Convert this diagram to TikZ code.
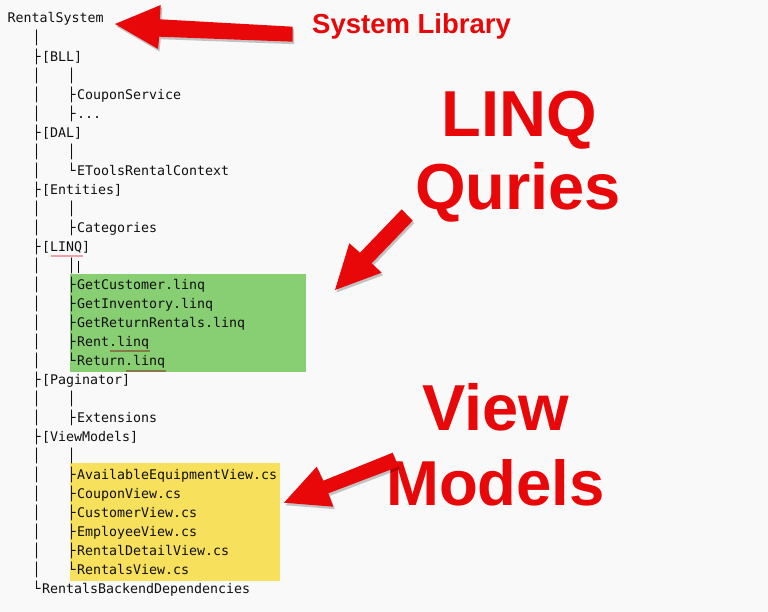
\documentclass[tikz,border=0pt]{standalone}
\usepackage{fontspec}
\setmainfont{Liberation Sans}
\newfontfamily\treefont{DejaVu Sans Mono}
\usetikzlibrary{shadows}
\definecolor{bgc}{HTML}{F9F9F9}
\definecolor{txt}{HTML}{101010}
\definecolor{grn}{HTML}{88CE72}
\definecolor{ylw}{HTML}{F7E05B}
\definecolor{redc}{HTML}{E8080A}
\definecolor{pinkul}{HTML}{F2A0A8}
\definecolor{oliveul}{HTML}{857849}
\tikzset{
  tree/.style={inner sep=0pt, outer sep=0pt, anchor=base west, text=txt,
    font=\treefont\fontsize{13.3}{16}\selectfont},
  callout/.style={inner sep=0pt, anchor=base, text=redc,
    font=\bfseries\fontsize{65}{70}\selectfont},
  redarrow/.style={fill=redc, drop shadow={shadow xshift=1.5pt, shadow yshift=-2.5pt, fill=black, opacity=0.22}},
}
\newcommand\TA[2]{\pgfmathsetmacro\yy{23+19.03*#1}\node[tree] (a#1) at (32.7,\yy) {#2};}
\newcommand\TB[2]{\pgfmathsetmacro\yy{23+19.03*#1}\node[tree] (b#1) at (67.7,\yy) {#2};}
\newcommand\LA[2]{\pgfmathsetmacro\yy{23+19.03*#1}\node[tree] (la#1) at (42,\yy) {#2};}
\newcommand\LB[2]{\pgfmathsetmacro\yy{23+19.03*#1}\node[tree] (lb#1) at (77,\yy) {#2};}
\begin{document}
\begin{tikzpicture}[x=1pt,y=-1pt]
\fill[bgc] (0,0) rectangle (768,612);
\useasboundingbox (0,0) rectangle (768,612);
% highlights
\fill[grn] (70,274) rectangle (306,371.7);
\fill[ylw] (70,463.3) rectangle (280,580.7);
% tree
\node[tree] (root) at (7.5,23) {RentalSystem};
\TA{1}{│}
\TA{2}{├}\LA{2}{[BLL]}
\TA{3}{│}\TB{3}{│}
\TA{4}{│}\TB{4}{├}\LB{4}{CouponService}
\TA{5}{│}\TB{5}{├}\LB{5}{...}
\TA{6}{├}\LA{6}{[DAL]}
\TA{7}{│}\TB{7}{│}
\TA{8}{│}\TB{8}{└}\LB{8}{EToolsRentalContext}
\TA{9}{├}\LA{9}{[Entities]}
\TA{10}{│}\TB{10}{│}
\TA{11}{│}\TB{11}{├}\LB{11}{Categories}
\TA{12}{├}\LA{12}{[LINQ]}
\TA{13}{│}\TB{13}{│}
\TA{14}{│}\TB{14}{├}\LB{14}{GetCustomer.linq}
\TA{15}{│}\TB{15}{├}\LB{15}{GetInventory.linq}
\TA{16}{│}\TB{16}{├}\LB{16}{GetReturnRentals.linq}
\TA{17}{│}\TB{17}{├}\LB{17}{Rent.linq}
\TA{18}{│}\TB{18}{└}\LB{18}{Return.linq}
\TA{19}{├}\LA{19}{[Paginator]}
\TA{20}{│}\TB{20}{│}
\TA{21}{│}\TB{21}{├}\LB{21}{Extensions}
\TA{22}{├}\LA{22}{[ViewModels]}
\TA{23}{│}\TB{23}{│}
\TA{24}{│}\TB{24}{├}\LB{24}{AvailableEquipmentView.cs}
\TA{25}{│}\TB{25}{├}\LB{25}{CouponView.cs}
\TA{26}{│}\TB{26}{├}\LB{26}{CustomerView.cs}
\TA{27}{│}\TB{27}{├}\LB{27}{EmployeeView.cs}
\TA{28}{│}\TB{28}{├}\LB{28}{RentalDetailView.cs}
\TA{29}{│}\TB{29}{└}\LB{29}{RentalsView.cs}
\TA{30}{└}\LA{30}{RentalsBackendDependencies}
% cursor and underlines
\draw[black, line width=1pt] (78.3,260.7) -- (78.3,273.3);
\draw[pinkul, line width=2pt] (51,256) -- (82.7,256);
\draw[oliveul, line width=2pt] (110,351) -- (150,351);
\draw[oliveul, line width=2pt] (126,370.7) -- (166,370.7);
% red labels
\node[inner sep=0pt, anchor=base west, text=redc, font=\bfseries\fontsize{27.5}{30}\selectfont] (syslib) at (312,33.3) {System Library};
\node[callout] (linq) at (519,136.7) {LINQ};
\node[callout] (quries) at (518,210) {Quries};
\node[callout] (view) at (496,430) {View};
\node[callout, font=\bfseries\fontsize{63.5}{70}\selectfont] (models) at (495.5,505) {Models};
% arrows
\path[redarrow] (115,24) -- (160.7,5) -- (160,19.3) -- (292.7,26.7) -- (292.7,41.7) -- (159.3,36.7) -- (158,49) -- cycle;
\path[redarrow] (335,290) -- (349.3,243.3) -- (360,252.7) -- (401.7,209.3) -- (412.7,220.7) -- (371.7,263.3) -- (381.7,272.7) -- cycle;
\path[redarrow] (284,502.7) -- (316.7,466.7) -- (323.3,480.7) -- (392.7,452.7) -- (398.3,466.7) -- (328.3,493.3) -- (333.3,506.7) -- cycle;
\end{tikzpicture}
\end{document}
